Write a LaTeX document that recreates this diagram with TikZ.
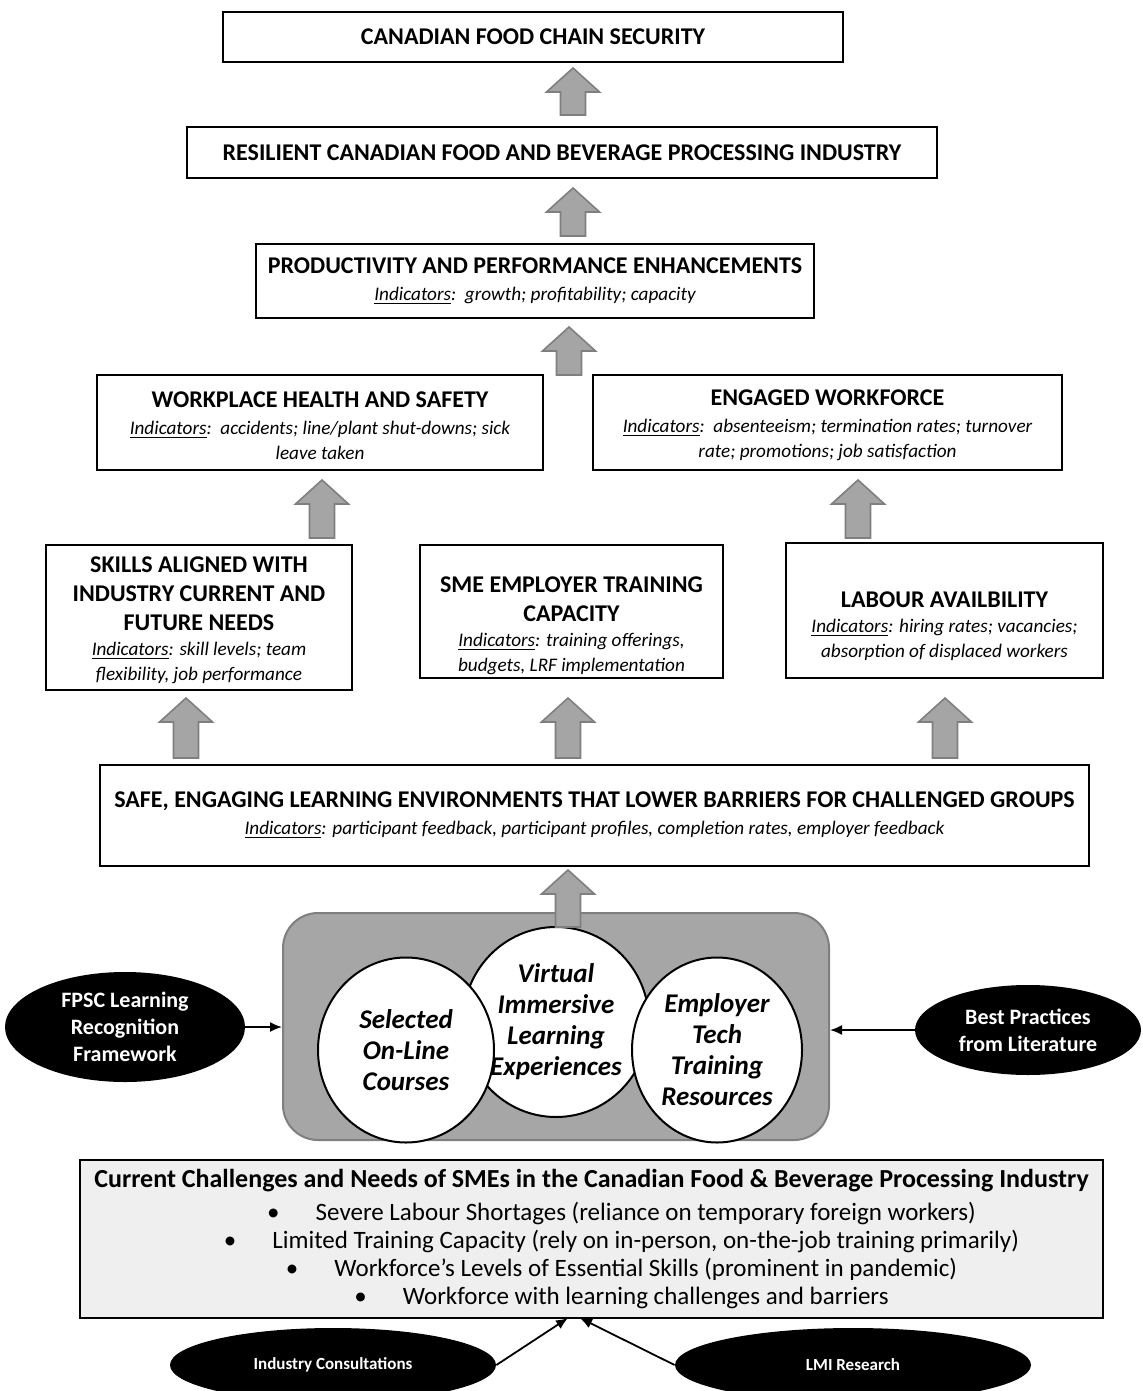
\documentclass[tikz,border=0pt]{standalone}
\usepackage{fontspec}
\setmainfont{Carlito}
\usetikzlibrary{shapes.geometric,arrows.meta}

\definecolor{liftfill}{HTML}{A5A5A5}
\definecolor{liftedge}{HTML}{7F7F7F}
\definecolor{hubfill}{HTML}{A6A6A6}
\definecolor{needfill}{HTML}{EFEFEF}

\newcommand{\ind}[1]{{\normalfont\itshape\fontsize{9.6}{12}\selectfont #1}}
\newcommand{\lbl}{\underline{Indicators}}
\newcommand{\pad}[1]{\rule{0pt}{#1}}
\newcommand{\need}[1]{\hspace*{30pt}\textbullet\hspace{18pt}#1}

\tikzset{
  pics/lift/.style={code={
    \draw[fill=liftfill,draw=liftedge,line width=0.8pt]
      (-12.5,0) -- (-12.5,24-#1) -- (-26.5,24-#1) -- (0,-#1) -- (26.5,24-#1) -- (12.5,24-#1) -- (12.5,0) -- cycle;
  }}
}

\begin{document}
\begin{tikzpicture}[x=0.5pt,y=-0.5pt,
  box/.style={draw,line width=1pt,fill=white,align=center,inner sep=0pt,font=\fontsize{12}{14.5}\selectfont\bfseries},
  petal/.style={ellipse,draw,line width=1pt,fill=white,align=center,inner sep=0pt,font=\fontsize{13.5}{15.5}\selectfont\bfseries\itshape},
  source/.style={ellipse,fill=black,text=white,align=center,inner sep=0pt,font=\fontsize{11}{13.5}\selectfont\bfseries},
  feed/.style={-{Latex[length=6pt,width=5pt]},line width=0.9pt}]
\clip (0,0) rectangle (1143,1391);

% outcome chain
\node[box,minimum width=310pt,minimum height=25pt] (chain) at (533,37) {CANADIAN FOOD CHAIN SECURITY};
\node[box,minimum width=375pt,minimum height=25.5pt] (resilient) at (562,152.5) {RESILIENT CANADIAN FOOD AND BEVERAGE PROCESSING INDUSTRY};
\node[box,minimum width=279pt,minimum height=37pt] (prod) at (535,281) {PRODUCTIVITY AND PERFORMANCE ENHANCEMENTS\\[-1pt]
  \ind{\lbl:\ \ growth; profitability; capacity}};
\node[box,minimum width=223pt,minimum height=47.5pt] (safety) at (320,422.5) {\pad{11pt}WORKPLACE HEALTH AND SAFETY\\[-1pt]
  \ind{\lbl:\ \ accidents; line/plant shut-downs; sick}\\[-2pt] \ind{leave taken}};
\node[box,minimum width=234.5pt,minimum height=47.5pt] (engaged) at (827.5,422.5) {\pad{11pt}ENGAGED WORKFORCE\\[-1pt]
  \ind{\lbl:\ \ absenteeism; termination rates; turnover}\\[-2pt] \ind{rate; promotions; job satisfaction}};

% intermediate outcomes
\node[box,minimum width=153pt,minimum height=72.5pt] (skills) at (199,617.5) {\pad{11pt}SKILLS ALIGNED WITH\\ INDUSTRY CURRENT AND\\ FUTURE NEEDS\\[-2pt]
  \ind{\lbl: skill levels; team}\\[-2pt] \ind{flexibility, job performance}};
\node[box,minimum width=151.5pt,minimum height=66.5pt] (sme) at (571.5,611.5) {\pad{22pt}SME EMPLOYER TRAINING\\ CAPACITY\\[-2pt]
  \ind{\lbl: training offerings,}\\[-2pt] \ind{budgets, LRF implementation}};
\node[box,minimum width=158.5pt,minimum height=67.5pt] (labour) at (944.5,610.5) {\pad{24pt}LABOUR AVAILBILITY\\[-2pt]
  \ind{\lbl: hiring rates; vacancies;}\\[-2pt] \ind{absorption of displaced workers}};

\node[box,minimum width=494.5pt,minimum height=50.5pt] (learning) at (594.5,815.5) {SAFE, ENGAGING LEARNING ENVIRONMENTS THAT LOWER BARRIERS FOR CHALLENGED GROUPS\\[-1pt]
  \ind{\lbl: participant feedback, participant profiles, completion rates, employer feedback}};

% block arrows
\pic at (573,115) {lift=47};
\pic at (573,236) {lift=48};
\pic at (569,375) {lift=48};
\pic at (322,538) {lift=58};
\pic at (858,538) {lift=58};
\foreach \x in {186,568,945} \pic at (\x,758) {lift=60};

% program components
\node[draw=liftedge,fill=hubfill,line width=1pt,rounded corners=17.5pt,minimum width=273pt,minimum height=113.5pt] (hub) at (556,1026.5) {};
\node[petal,minimum width=92.5pt,minimum height=95pt] (virtual) at (556,1022) {Virtual\\ Immersive\\ Learning\\ Experiences};
\node[petal,minimum width=88pt,minimum height=92.5pt] (online) at (406,1050) {Selected\\ On-Line\\ Courses};
\node[petal,minimum width=85pt,minimum height=92.5pt] (employer) at (717,1050) {Employer\\ Tech\\ Training\\ Resources};
\pic at (568,927) {lift=57};

\node[source,minimum width=120pt,minimum height=55pt] (fpsc) at (125,1027) {FPSC Learning\\ Recognition\\ Framework};
\node[source,minimum width=113pt,minimum height=45pt] (best) at (1028,1030) {Best Practices\\ from Literature};
\draw[feed] (fpsc.east) -- (fpsc.east -| hub.west);
\draw[feed] (best.west) -- (best.west -| hub.east);

% needs
\node[draw,line width=1pt,fill=needfill,align=center,minimum width=511.5pt,minimum height=79pt,font=\fontsize{12.5}{14}\selectfont] (needs) at (591.5,1239) {%
  {\bfseries\fontsize{13}{14}\selectfont Current Challenges and Needs of SMEs in the Canadian Food \& Beverage Processing Industry}\\[2.5pt]
  \need{Severe Labour Shortages (reliance on temporary foreign workers)}\\
  \need{Limited Training Capacity (rely on in-person, on-the-job training primarily)}\\
  \need{Workforce’s Levels of Essential Skills (prominent in pandemic)}\\
  \need{Workforce with learning challenges and barriers}};

\node[source,minimum width=163pt,minimum height=37pt,font=\fontsize{8.5}{10}\selectfont\bfseries] (consult) at (333,1365) {Industry Consultations};
\node[source,minimum width=178pt,minimum height=37pt,font=\fontsize{8.5}{10}\selectfont\bfseries] (lmi) at (853,1365) {LMI Research};
\coordinate (inA) at (568,1318);
\coordinate (inB) at (580,1318);
\draw[feed] (consult.east) -- (inA);
\draw[feed] (lmi.west) -- (inB);
\end{tikzpicture}
\end{document}
